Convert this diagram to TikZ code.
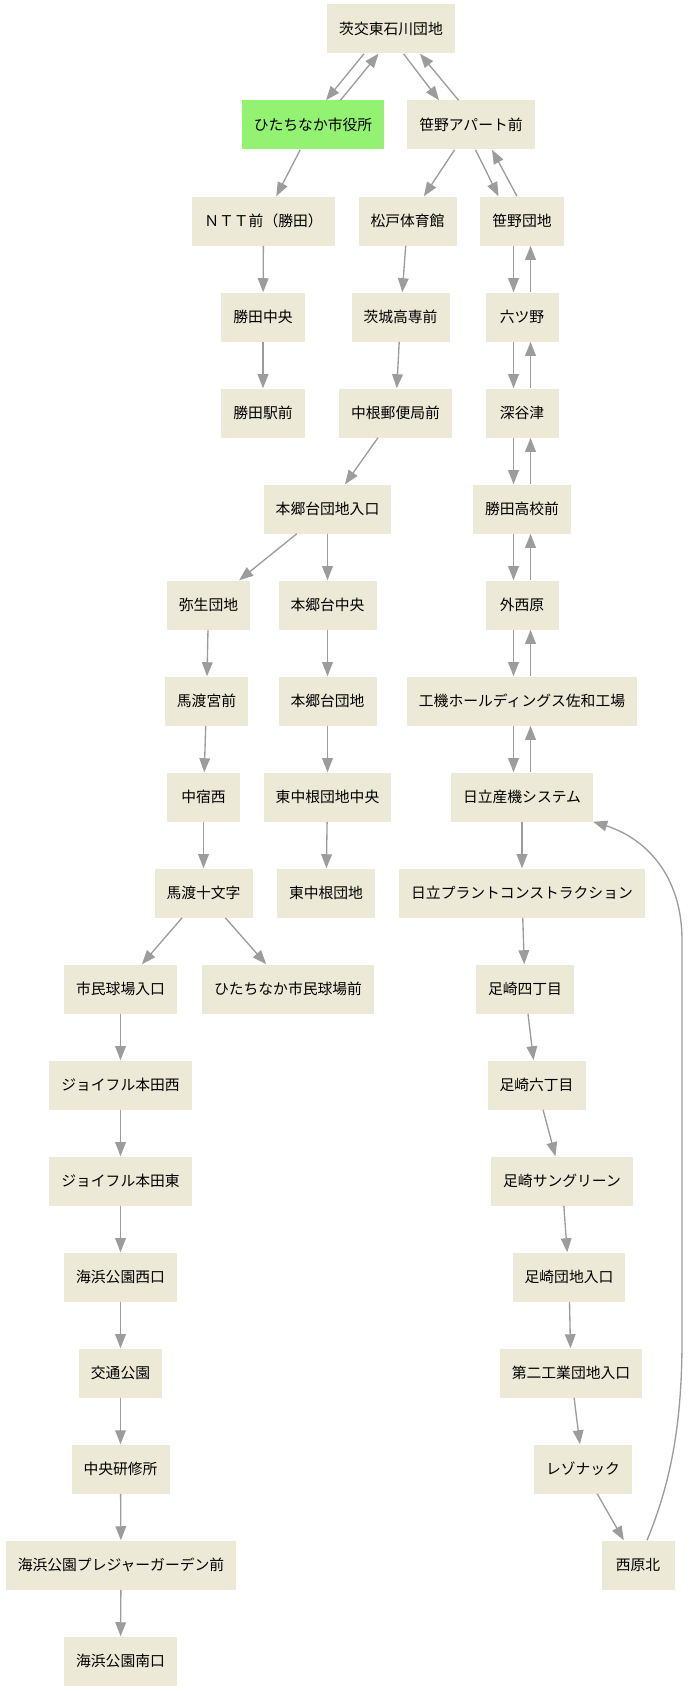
\documentclass[tikz,border=0pt]{standalone}
\usepackage{fontspec}
\usepackage{tikz}
\usepackage{xcolor}
\usetikzlibrary{arrows.meta}
\setmainfont{Noto Sans CJK JP}
\definecolor{stopcolorc}{HTML}{ECEAD6}
\definecolor{homecolorc}{HTML}{94F272}
\definecolor{linecolorc}{HTML}{9C9C9C}
\colorlet{stopcolor}{stopcolorc}
\colorlet{homecolor}{homecolorc}
\colorlet{linecolor}{linecolorc}
\tikzstyle{stopbox} = [
    fill=stopcolor,
    rectangle,
    font=\fontsize{11.1pt}{13pt}\selectfont,
    inner xsep=9pt,
    minimum width=54.75pt,
    minimum height=36.75pt
    ]
\tikzstyle{homebox} = [
    stopbox,
    fill=homecolor
    ]
\tikzstyle{busline} = [
    draw=linecolor,
    line width=1pt,
    -{Triangle[length=10.5pt,width=8pt]}
    ]

\begin{document}
\begin{tikzpicture}[x=0.75pt,y=-0.75pt]
\useasboundingbox (0,0) rectangle (690,1691);
% stops
\node[stopbox] (ishikawa) at (391,29) {茨交東石川団地};
\node[homebox] (shiyakusho) at (313,125) {ひたちなか市役所};
\node[stopbox] (sasanoapt) at (471,125) {笹野アパート前};
\node[stopbox] (ntt) at (263.5,221) {ＮＴＴ前（勝田）};
\node[stopbox] (matsudo) at (407.5,221) {松戸体育館};
\node[stopbox] (sasano) at (522,221) {笹野団地};
\node[stopbox] (katchuo) at (263,317) {勝田中央};
\node[stopbox] (kosen) at (400.5,317) {茨城高専前};
\node[stopbox] (mutsuno) at (522,317) {六ツ野};
\node[stopbox] (katsuta) at (263,413) {勝田駅前};
\node[stopbox] (nakane) at (395.5,413) {中根郵便局前};
\node[stopbox] (fukayatsu) at (522,413) {深谷津};
\node[stopbox] (hongoiri) at (327.5,509) {本郷台団地入口};
\node[stopbox] (kokomae) at (522,509) {勝田高校前};
\node[stopbox] (yayoi) at (208.5,605) {弥生団地};
\node[stopbox] (hongochuo) at (327.5,605) {本郷台中央};
\node[stopbox] (sotonishi) at (522,605) {外西原};
\node[stopbox] (miyamae) at (206.5,701) {馬渡宮前};
\node[stopbox] (hongodanchi) at (327.5,701) {本郷台団地};
\node[stopbox] (koki) at (522,701) {工機ホールディングス佐和工場};
\node[stopbox] (nakajuku) at (203.5,797) {中宿西};
\node[stopbox] (higachuo) at (327.5,797) {東中根団地中央};
\node[stopbox] (sanki) at (522,797) {日立産機システム};
\node[stopbox] (jumonji) at (203.5,893) {馬渡十文字};
\node[stopbox] (higanakane) at (326,893) {東中根団地};
\node[stopbox] (plant) at (522,893) {日立プラントコンストラクション};
\node[stopbox] (kyujoiri) at (120.5,989) {市民球場入口};
\node[stopbox] (kyujomae) at (288,989) {ひたちなか市民球場前};
\node[stopbox] (tazaki4) at (525,989) {足崎四丁目};
\node[stopbox] (joyfulw) at (120.5,1085) {ジョイフル本田西};
\node[stopbox] (tazaki6) at (536.5,1085) {足崎六丁目};
\node[stopbox] (joyfule) at (120.5,1181) {ジョイフル本田東};
\node[stopbox] (sungreen) at (562,1181) {足崎サングリーン};
\node[stopbox] (kaihinw) at (120.5,1277) {海浜公園西口};
\node[stopbox] (tazakiiri) at (569,1277) {足崎団地入口};
\node[stopbox] (kotsu) at (120.5,1373) {交通公園};
\node[stopbox] (kogyo) at (571,1373) {第二工業団地入口};
\node[stopbox] (kenshu) at (120.5,1469) {中央研修所};
\node[stopbox] (resonac) at (583,1469) {レゾナック};
\node[stopbox] (pleasure) at (121,1565) {海浜公園プレジャーガーデン前};
\node[stopbox] (nishikita) at (638,1565) {西原北};
\node[stopbox] (kaihins) at (120.5,1661) {海浜公園南口};
% both ways
\draw[busline] ([shift={(-27,0)}]ishikawa.south) -- ([shift={(13,0)}]shiyakusho.north);
\draw[busline] ([shift={(27.5,0)}]shiyakusho.north) -- ([shift={(-12.5,0)}]ishikawa.south);
\draw[busline] ([shift={(12.5,0)}]ishikawa.south) -- ([shift={(-32,0)}]sasanoapt.north);
\draw[busline] ([shift={(-12.5,0)}]sasanoapt.north) -- ([shift={(29,0)}]ishikawa.south);
\draw[busline] ([shift={(4.5,0)}]sasanoapt.south) -- ([shift={(-23.5,0)}]sasano.north);
\draw[busline] ([shift={(-5,0)}]sasano.north) -- ([shift={(21,0)}]sasanoapt.south);
\draw[busline] ([shift={(-8.5,0)}]sasano.south) -- ([shift={(-8.5,0)}]mutsuno.north);
\draw[busline] ([shift={(8.5,0)}]mutsuno.north) -- ([shift={(8.5,0)}]sasano.south);
\draw[busline] ([shift={(-8.5,0)}]mutsuno.south) -- ([shift={(-8.5,0)}]fukayatsu.north);
\draw[busline] ([shift={(8.5,0)}]fukayatsu.north) -- ([shift={(8.5,0)}]mutsuno.south);
\draw[busline] ([shift={(-8.5,0)}]fukayatsu.south) -- ([shift={(-8.5,0)}]kokomae.north);
\draw[busline] ([shift={(8.5,0)}]kokomae.north) -- ([shift={(8.5,0)}]fukayatsu.south);
\draw[busline] ([shift={(-8.5,0)}]kokomae.south) -- ([shift={(-8.5,0)}]sotonishi.north);
\draw[busline] ([shift={(8.5,0)}]sotonishi.north) -- ([shift={(8.5,0)}]kokomae.south);
\draw[busline] ([shift={(-8.5,0)}]sotonishi.south) -- ([shift={(-8.5,0)}]koki.north);
\draw[busline] ([shift={(8.5,0)}]koki.north) -- ([shift={(8.5,0)}]sotonishi.south);
\draw[busline] ([shift={(-8.5,0)}]koki.south) -- ([shift={(-8.5,0)}]sanki.north);
\draw[busline] ([shift={(8.5,0)}]sanki.north) -- ([shift={(8.5,0)}]koki.south);
% one way
\draw[busline] (shiyakusho) -- (ntt);
\draw[busline] (ntt) -- (katchuo);
\draw[busline] (katchuo) -- (katsuta);
\draw[busline] (sasanoapt) -- (matsudo);
\draw[busline] (matsudo) -- (kosen);
\draw[busline] (kosen) -- (nakane);
\draw[busline] (nakane) -- (hongoiri);
\draw[busline] (hongoiri) -- (yayoi);
\draw[busline] (hongoiri) -- (hongochuo);
\draw[busline] (yayoi) -- (miyamae);
\draw[busline] (miyamae) -- (nakajuku);
\draw[busline] (nakajuku) -- (jumonji);
\draw[busline] (hongochuo) -- (hongodanchi);
\draw[busline] (hongodanchi) -- (higachuo);
\draw[busline] (higachuo) -- (higanakane);
\draw[busline] (jumonji) -- (kyujoiri);
\draw[busline] (jumonji) -- (kyujomae);
\draw[busline] (kyujoiri) -- (joyfulw);
\draw[busline] (joyfulw) -- (joyfule);
\draw[busline] (joyfule) -- (kaihinw);
\draw[busline] (kaihinw) -- (kotsu);
\draw[busline] (kotsu) -- (kenshu);
\draw[busline] (kenshu) -- (pleasure);
\draw[busline] (pleasure) -- (kaihins);
\draw[busline] (sanki) -- (plant);
\draw[busline] (plant) -- (tazaki4);
\draw[busline] (tazaki4) -- (tazaki6);
\draw[busline] (tazaki6) -- (sungreen);
\draw[busline] (sungreen) -- (tazakiiri);
\draw[busline] (tazakiiri) -- (kogyo);
\draw[busline] (kogyo) -- (resonac);
\draw[busline] (resonac) -- (nishikita);
\draw[busline] ([shift={(9,0)}]nishikita.north) .. controls (672,1480) and (682,1420) .. (682,1340)
    -- (682,940) .. controls (682,875) and (645,838) .. (sanki.south east);
\end{tikzpicture}
\end{document}
